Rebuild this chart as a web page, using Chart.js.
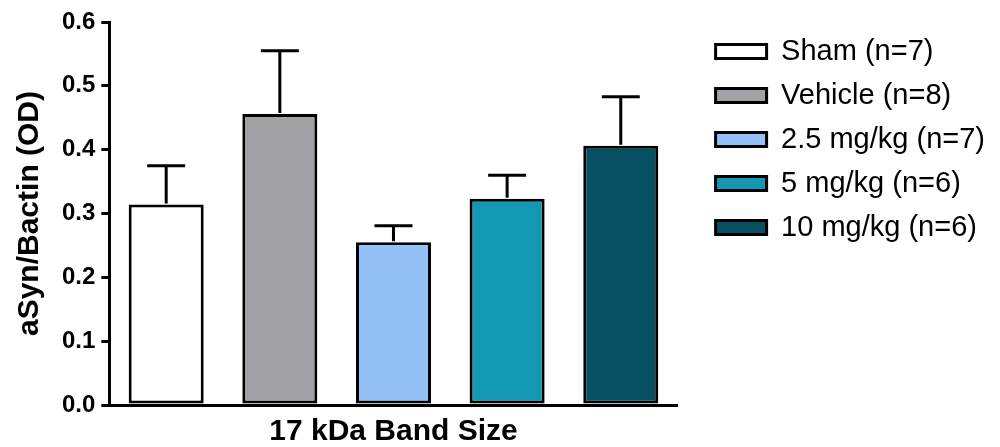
<!DOCTYPE html>
<html>
<head>
<meta charset="utf-8">
<script src="https://cdn.jsdelivr.net/npm/chart.js@4/dist/chart.umd.min.js"></script>
<style>
  html, body { margin: 0; padding: 0; background: #ffffff; }
  #wrap { width: 1000px; height: 447px; }
</style>
</head>
<body>
<div id="wrap"><canvas id="chart" width="1000" height="447"></canvas></div>
<script>
const groups = ["Sham (n=7)", "Vehicle (n=8)", "2.5 mg/kg (n=7)", "5 mg/kg (n=6)", "10 mg/kg (n=6)"];
const means = [0.314, 0.456, 0.255, 0.323, 0.406];
const sem = [0.061, 0.099, 0.026, 0.037, 0.077];
const colors = ["#ffffff", "#a2a2a6", "#93c0f7", "#1398b3", "#074f63"];
const yTicks = [0, 0.1, 0.2, 0.3, 0.4, 0.5, 0.6];

const FONT = "'Liberation Sans', Arial, sans-serif";

const datasets = groups.map((name, i) => ({
  label: name,
  data: means.map((v, j) => (j === i ? v : null)),
  errors: means.map((v, j) => (j === i ? sem[i] : null)),
  backgroundColor: colors[i],
  borderColor: "#000000",
  borderWidth: 3,
  borderSkipped: false,
}));

const errorBars = {
  id: "errorBars",
  afterDatasetsDraw(chart) {
    const ctx = chart.ctx;
    const y = chart.scales.y;
    ctx.save();
    ctx.strokeStyle = "#000000";
    ctx.lineWidth = 3;
    chart.data.datasets.forEach((ds, i) => {
      const meta = chart.getDatasetMeta(i);
      meta.data.forEach((bar, j) => {
        if (ds.data[j] == null) return;
        const top = y.getPixelForValue(ds.data[j] + ds.errors[j]);
        ctx.beginPath();
        ctx.moveTo(bar.x, bar.y - 1);
        ctx.lineTo(bar.x, top);
        ctx.moveTo(bar.x - 19, top);
        ctx.lineTo(bar.x + 19, top);
        ctx.stroke();
      });
    });
    ctx.restore();
  },
};

new Chart(document.getElementById("chart"), {
  type: "bar",
  data: {
    labels: groups.map(() => ""),
    datasets: datasets,
  },
  options: {
    responsive: false,
    animation: false,
    skipNull: true,
    barPercentage: 0.66,
    categoryPercentage: 1,
    layout: { padding: { top: 22, right: 5, left: 12, bottom: 0 } },
    plugins: {
      tooltip: { enabled: false },
      legend: {
        position: "right",
        align: "start",
        maxWidth: 320,
        labels: {
          color: "#000000",
          font: { family: FONT, size: 29 },
          boxWidth: 51,
          boxHeight: 14,
          padding: 15,
        },
      },
    },
    scales: {
      x: {
        grid: { display: false, drawTicks: false },
        border: { color: "#000000", width: 3 },
        ticks: { display: false },
        title: {
          display: true,
          text: "17 kDa Band Size",
          color: "#000000",
          font: { family: FONT, size: 30, weight: "bold", lineHeight: 1 },
          padding: { top: 12, bottom: 0 },
        },
      },
      y: {
        min: 0,
        max: 0.6,
        afterBuildTicks: (axis) => {
          axis.ticks = yTicks.map((v) => ({ value: v }));
        },
        grid: {
          drawOnChartArea: false,
          drawTicks: true,
          tickLength: 8,
          color: "#000000",
          lineWidth: 3,
        },
        border: { color: "#000000", width: 3 },
        ticks: {
          color: "#000000",
          padding: 6,
          font: { family: FONT, size: 24, weight: "bold" },
          callback: (v) => Number(v).toFixed(1),
        },
        title: {
          display: true,
          text: "aSyn/Bactin (OD)",
          color: "#000000",
          font: { family: FONT, size: 30, weight: "bold" },
          padding: { top: 0, bottom: 8 },
        },
      },
      // empty spacer between the plot and the legend
      gap: {
        type: "linear",
        position: "right",
        min: 0,
        max: 1,
        grid: { display: false },
        border: { display: false },
        ticks: { display: false },
        afterFit: (scale) => {
          scale.width = 23;
        },
      },
    },
  },
  plugins: [errorBars],
});
</script>
</body>
</html>
